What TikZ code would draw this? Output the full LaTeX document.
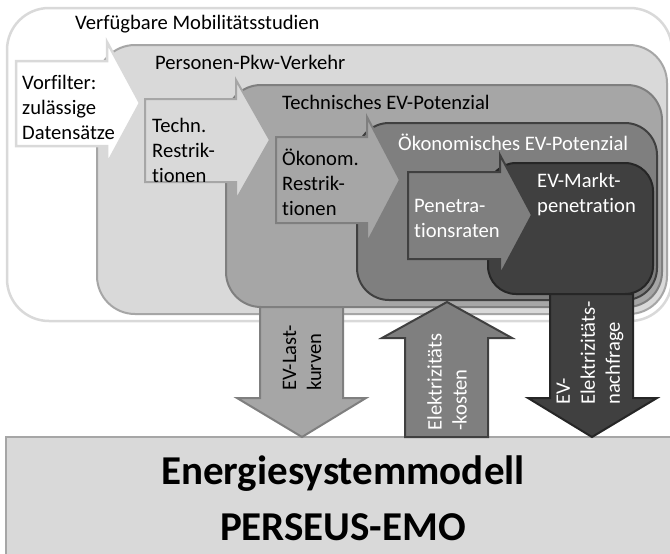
\documentclass[tikz,border=0pt]{standalone}
\usepackage{fontspec}
\setmainfont{Carlito}[Ligatures=NoCommon]
\definecolor{GrayA}{HTML}{D9D9D9}
\definecolor{GrayB}{HTML}{A6A6A6}
\definecolor{GrayC}{HTML}{7F7F7F}
\definecolor{GrayD}{HTML}{404040}
\definecolor{GrayE}{HTML}{262626}

\begin{document}
\begin{tikzpicture}
    [
        x=1pt,y=-1pt,
        Level0/.style={fill=white,draw=GrayA,line width=2.5pt},
        Level1/.style={fill=GrayA,draw=GrayB,line width=2pt},
        Level2/.style={fill=GrayB,draw=GrayC,line width=2pt},
        Level3/.style={fill=GrayC,draw=GrayD,line width=2pt},
        Level4/.style={fill=GrayD,draw=GrayE,line width=2pt},
        Label/.style={inner sep=0pt,anchor=west,align=left,font=\fontsize{20.6}{25}\selectfont},
        WhiteLabel/.style={Label,text=white},
        VLabel/.style={inner sep=0pt,rotate=90,align=left,font=\fontsize{20.6}{25}\selectfont}
    ]
    \useasboundingbox (0,0) rectangle (670,554);

    % nested regions
    \draw[Level0,rounded corners=42pt] (7,8) rectangle (672,321);
    \draw[Level1,rounded corners=38pt] (97,45) rectangle (667,314);
    \draw[Level0,line join=miter] (16,61) -- (107,61) -- (107,42) -- (140,103) -- (107,164) -- (107,146) -- (16,146) -- cycle;
    \draw[Level2,rounded corners=35pt] (226,85) rectangle (662,307);
    \draw[Level1] (145,99) -- (236,99) -- (236,80) -- (270,140) -- (236,200) -- (236,182) -- (145,182) -- cycle;
    \draw[Level3,rounded corners=32pt] (357,123) rectangle (657,300);
    \draw[Level2] (276,137) -- (367,137) -- (367,117) -- (400,180) -- (367,243) -- (367,223) -- (276,223) -- cycle;
    \draw[Level4,rounded corners=28pt] (488,163) rectangle (653,294);
    \draw[Level3] (408,172) -- (500,172) -- (500,155) -- (532,215) -- (500,275) -- (500,259) -- (408,259) -- cycle;

    % model box and exchange arrows
    \draw[Level1] (6,437) rectangle (676,560);
    \draw[Level2] (260,307) -- (343,307) -- (343,398) -- (366,398) -- (302,437) -- (237,398) -- (260,398) -- cycle;
    \draw[Level3] (405,437) -- (405,338) -- (382,338) -- (447,302) -- (512,338) -- (488,338) -- (488,437) -- cycle;
    \draw[Level4] (550,294) -- (633,294) -- (633,398) -- (657,398) -- (592,437) -- (528,398) -- (550,398) -- cycle;

    \node[Label] (studien) at (75,24) {Verfügbare Mobilitätsstudien};
    \node[Label] (pkw) at (155,62) {Personen-Pkw-Verkehr};
    \node[Label] (technpot) at (282,102) {Technisches EV-Potenzial};
    \node[WhiteLabel] (oekpot) at (398,142) {Ökonomisches EV-Potenzial};
    \node[WhiteLabel] (markt) at (537,195) {EV-Markt-\\penetration};

    \node[Label] (vorfilter) at (22,107) {Vorfilter:\\zulässige\\Datensätze};
    \node[Label] (technrestr) at (152,150) {Techn.\\Restrik-\\tionen};
    \node[Label] (oekrestr) at (282,182) {Ökonom.\\Restrik-\\tionen};
    \node[WhiteLabel] (penrate) at (414,218) {Penetra-\\tionsraten};

    \node[VLabel] (lastkurven) at (302,358) {EV-Last-\\kurven};
    \node[VLabel,text=white] (kosten) at (447,382) {Elektrizitäts\\-kosten};
    \node[VLabel,text=white] (nachfrage) at (590,353) {EV-\\Elektrizitäts-\\nachfrage};

    \node[inner sep=0pt,align=center,font=\fontsize{41}{56}\selectfont\bfseries] (modell) at (343,498) {Energiesystemmodell\\PERSEUS-EMO};
\end{tikzpicture}
\end{document}
